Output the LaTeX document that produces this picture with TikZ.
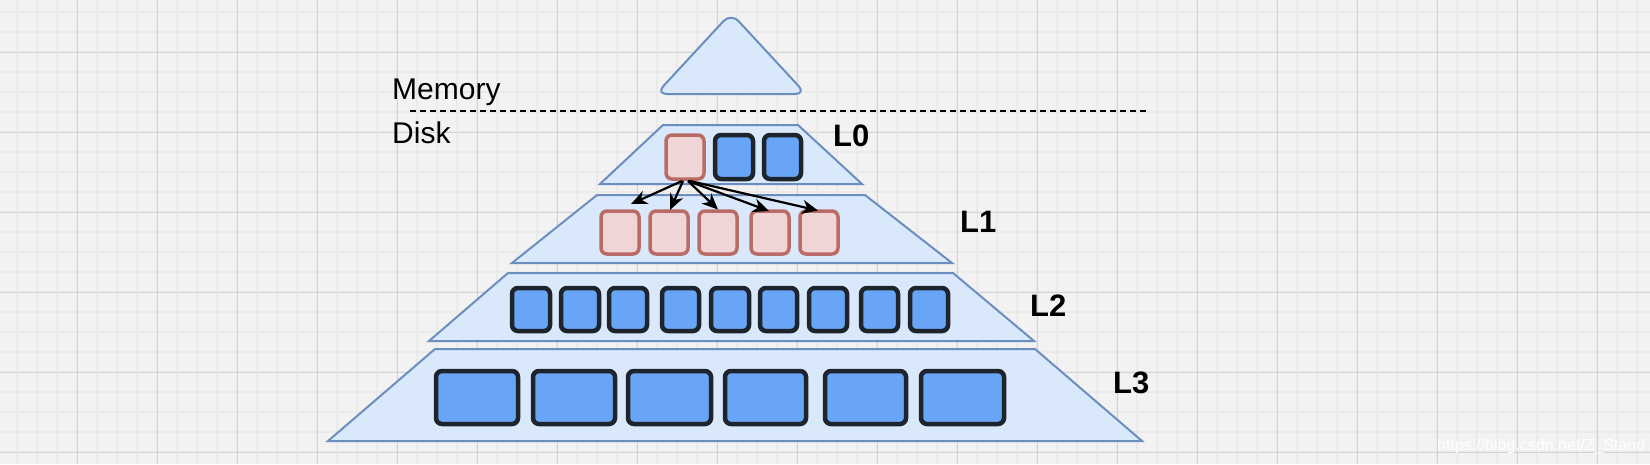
\documentclass[tikz,border=0pt]{standalone}
\usepackage{fontspec}
\setmainfont{Liberation Sans}
\usetikzlibrary{arrows.meta,calc}
\definecolor{bgc}{HTML}{F2F2F2}
\definecolor{gminor}{HTML}{EAEAEA}
\definecolor{gmajor}{HTML}{D3D3D3}
\definecolor{trapfill}{HTML}{DAE8FC}
\definecolor{trapline}{HTML}{6C8EBF}
\definecolor{bluefill}{HTML}{69A5F6}
\definecolor{darkline}{HTML}{1E242C}
\definecolor{pinkfill}{HTML}{EFD5D5}
\definecolor{pinkline}{HTML}{BA6B66}
\tikzset{
  trap/.style={fill=trapfill, draw=trapline, line width=2pt, line join=miter},
  blk/.style={rectangle, rounded corners=6pt, inner sep=0pt, outer sep=0pt},
  bluebox/.style={blk, fill=bluefill, draw=darkline, line width=4.5pt},
  pinkbox/.style={blk, fill=pinkfill, draw=pinkline, line width=3.5pt},
  lvl/.style={font=\bfseries\fontsize{31}{31}\selectfont, anchor=base west, inner sep=0pt},
  lbl/.style={font=\fontsize{30}{30}\selectfont, anchor=base west, inner sep=0pt},
  arr/.style={draw=black, line width=2.2pt, -{Stealth[length=16pt,width=14pt,inset=5pt]}},
}
\newcommand{\bx}[6]{\node[#2, minimum width={(#4-#3-4)*1pt}, minimum height={(#6-#5-4)*1pt}] (#1) at ({(#3+#4)/2},{(#5+#6)/2}) {};}
\begin{document}
\begin{tikzpicture}[x=1pt,y=-1pt]
\useasboundingbox (0,0) rectangle (1650,464);
\fill[bgc] (0,0) rectangle (1650,464);
\foreach \x in {17,37,...,1650} \draw[gminor, line width=1.5pt] (\x,0) -- (\x,464);
\foreach \y in {12,32,...,464} \draw[gminor, line width=1.5pt] (0,\y) -- (1650,\y);
\foreach \x in {77,157,...,1650} \draw[gmajor, line width=1pt] (\x,0) -- (\x,464);
\foreach \y in {52,132,...,464} \draw[gmajor, line width=1pt] (0,\y) -- (1650,\y);

% memory triangle
\draw[trap, rounded corners=11pt] (731,13) -- (806,94) -- (656,94) -- cycle;
% divider
\draw[black, line width=2pt, dash pattern=on 6pt off 4pt] (410,110.5) -- (1148,110.5);
\node[lbl] (mem) at (392,99) {Memory};
\node[lbl] (disk) at (392,143) {Disk};

% trapezoids
\draw[trap] (663,125) -- (798,125) -- (862,184) -- (600,184) -- cycle;
\draw[trap] (597,195) -- (865,195) -- (952,263) -- (512,263) -- cycle;
\draw[trap] (508,273) -- (953,273) -- (1034,341) -- (429,341) -- cycle;
\draw[trap] (435,349) -- (1035,349) -- (1142,441) -- (328,441) -- cycle;

% L0
\bx{p0}{pinkbox}{664}{706}{133}{181}
\bx{a2}{bluebox}{713}{755}{133}{181}
\bx{a3}{bluebox}{762}{803}{133}{181}
% L1
\bx{q1}{pinkbox}{599}{641}{209}{256}
\bx{q2}{pinkbox}{648}{690}{209}{256}
\bx{q3}{pinkbox}{697}{739}{209}{256}
\bx{q4}{pinkbox}{749}{791}{209}{256}
\bx{q5}{pinkbox}{798}{840}{209}{256}
% L2
\bx{r1}{bluebox}{510}{552}{286}{333}
\bx{r2}{bluebox}{559}{601}{286}{333}
\bx{r3}{bluebox}{607}{649}{286}{333}
\bx{r4}{bluebox}{660}{701}{286}{333}
\bx{r5}{bluebox}{709}{751}{286}{333}
\bx{r6}{bluebox}{758}{799}{286}{333}
\bx{r7}{bluebox}{807}{849}{286}{333}
\bx{r8}{bluebox}{859}{900}{286}{333}
\bx{r9}{bluebox}{908}{950}{286}{333}
% L3
\bx{s1}{bluebox}{434}{520}{369}{426}
\bx{s2}{bluebox}{531}{617}{369}{426}
\bx{s3}{bluebox}{626}{713}{369}{426}
\bx{s4}{bluebox}{723}{808}{369}{426}
\bx{s5}{bluebox}{823}{908}{369}{426}
\bx{s6}{bluebox}{919}{1006}{369}{426}

% arrows
\draw[arr] ([xshift=-3pt,yshift=-2pt]p0.south) -- ([xshift=11pt,yshift=7pt]q1.north);
\draw[arr] ([xshift=-2pt,yshift=-2pt]p0.south) -- ([xshift=1pt,yshift=1pt]q2.north);
\draw[arr] ([xshift=3pt,yshift=-2pt]p0.south) -- ([yshift=1.5pt]q3.north);
\draw[arr] ([xshift=3pt,yshift=-2pt]p0.south) -- ([xshift=-1pt]q4.north);
\draw[arr] ([xshift=5pt,yshift=-2pt]p0.south) -- ([xshift=-1pt,yshift=0.5pt]q5.north);

% level labels
\node[lvl] (l0) at (833,146) {L0};
\node[lvl] (l1) at (960,232) {L1};
\node[lvl] (l2) at (1030,316) {L2};
\node[lvl] (l3) at (1113,393) {L3};

\node[font=\fontsize{16}{16}\selectfont, text=white, anchor=base west, inner sep=0pt] (wm) at (1437,450) {https://blog.csdn.net/Z\_Stand};
\end{tikzpicture}
\end{document}
